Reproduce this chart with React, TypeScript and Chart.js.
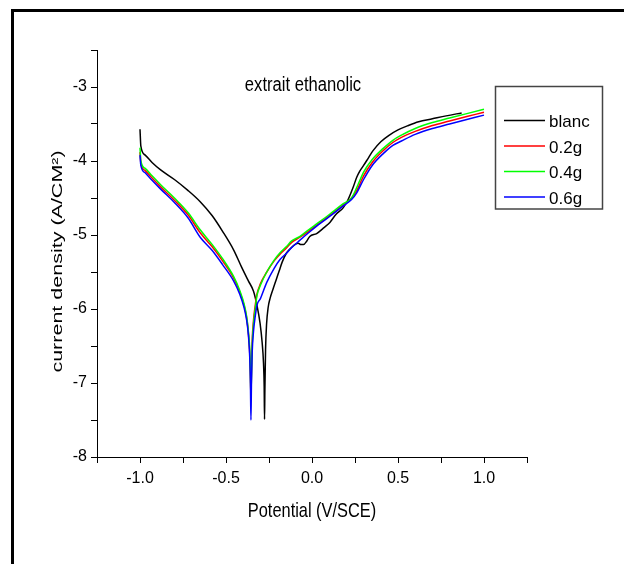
import React, { useEffect, useRef } from "react";
import { Chart, registerables } from "chart.js";

Chart.register(...registerables);

// ---------- data ----------
const seriesLabels = ["blanc", "0.2g", "0.4g", "0.6g"];
const seriesColors = ["#000000", "#ff0000", "#00ff00", "#0000ff"];

const blancPotential = [
  -1.0, -0.995, -0.97, -0.93, -0.88, -0.8, -0.72, -0.65, -0.58, -0.52,
  -0.456, -0.41, -0.37, -0.34, -0.32, -0.302, -0.29, -0.282, -0.278, -0.276,
  -0.274, -0.27, -0.264, -0.255, -0.243, -0.225, -0.209, -0.19, -0.174, -0.15,
  -0.128, -0.1, -0.08, -0.065, -0.05, -0.03, -0.013, 0.027, 0.07, 0.104,
  0.14, 0.182, 0.21, 0.24, 0.26, 0.277, 0.3, 0.33, 0.355, 0.4,
  0.45, 0.5, 0.56, 0.62, 0.7, 0.78, 0.87,
];
const blancLogI = [
  -3.57, -3.8, -3.92, -4.02, -4.12, -4.25, -4.4, -4.55, -4.74, -4.95,
  -5.2, -5.43, -5.62, -5.76, -5.95, -6.19, -6.45, -6.73, -7.05, -7.49,
  -7.1, -6.55, -6.2, -5.98, -5.85, -5.72, -5.61, -5.48, -5.37, -5.25,
  -5.19, -5.13, -5.11, -5.13, -5.13, -5.08, -5.02, -4.98, -4.9, -4.83,
  -4.72, -4.63, -4.52, -4.35, -4.22, -4.14, -4.06, -3.95, -3.86, -3.74,
  -3.65, -3.58, -3.52, -3.47, -3.43, -3.39, -3.35,
];

const inhPotential = [
  -1.0, -0.995, -0.97, -0.93, -0.88, -0.8, -0.72, -0.65, -0.58, -0.52,
  -0.456, -0.42, -0.395, -0.38, -0.37, -0.362, -0.358, -0.355, -0.352, -0.348,
  -0.34, -0.33, -0.32, -0.3, -0.263, -0.22, -0.186, -0.15, -0.118, -0.07,
  -0.02, 0.027, 0.08, 0.124, 0.18, 0.23, 0.26, 0.3, 0.35, 0.414,
  0.47, 0.52, 0.6, 0.7, 0.8, 0.9, 1.0,
];
const logI_02g = [
  -3.88, -4.03, -4.13, -4.23, -4.35, -4.53, -4.73, -4.97, -5.16, -5.35,
  -5.58, -5.77, -5.95, -6.12, -6.32, -6.6, -6.9, -7.2, -6.85, -6.45,
  -6.15, -5.95, -5.8, -5.66, -5.5, -5.35, -5.26, -5.18, -5.1, -5.03,
  -4.95, -4.87, -4.78, -4.7, -4.6, -4.5, -4.4, -4.2, -4.02, -3.86,
  -3.75, -3.68, -3.6, -3.52, -3.46, -3.4, -3.34,
];
const logI_04g = [
  -3.82, -4.0, -4.1, -4.2, -4.32, -4.5, -4.7, -4.93, -5.13, -5.32,
  -5.56, -5.75, -5.93, -6.1, -6.3, -6.55, -6.85, -7.2, -6.9, -6.5,
  -6.2, -6.0, -5.82, -5.68, -5.5, -5.34, -5.24, -5.16, -5.08, -5.02,
  -4.93, -4.85, -4.76, -4.68, -4.58, -4.5, -4.36, -4.15, -3.98, -3.83,
  -3.72, -3.65, -3.56, -3.48, -3.42, -3.36, -3.3,
];
const logI_06g = [
  -3.92, -4.06, -4.16, -4.26, -4.38, -4.56, -4.77, -5.03, -5.21, -5.4,
  -5.62, -5.8, -5.98, -6.15, -6.35, -6.65, -7.0, -7.5, -7.0, -6.6,
  -6.3, -6.1, -5.95, -5.86, -5.64, -5.45, -5.33, -5.25, -5.17, -5.07,
  -4.97, -4.88, -4.79, -4.71, -4.61, -4.52, -4.43, -4.25, -4.06, -3.9,
  -3.79, -3.73, -3.64, -3.56, -3.5, -3.44, -3.38,
];

const chartTitle = "extrait ethanolic";
const xTitle = "Potential (V/SCE)";
const yTitle = "current density (A/CM\u00B2)";
const xMin = -1.25, xMax = 1.25, xStep = 0.25;
const yMin = -8, yMax = -2.5, yStep = 0.5;

// ---------- layout ----------
const W = 624, H = 564;
const AREA = { left: 97, top: 50, right: 527, bottom: 457 };
const TICK_FONT = "'Liberation Sans Narrow', 'Liberation Sans', Arial, sans-serif";
const TEXT_FONT = "'Liberation Sans', Arial, sans-serif";

function zip(xs: number[], ys: number[]) {
  return xs.map((x, i) => ({ x, y: ys[i] }));
}

function drawScaled(
  ctx: CanvasRenderingContext2D, text: string, x: number, y: number,
  size: number, sx: number, sy: number, rot: number, baseline: CanvasTextBaseline
) {
  ctx.save();
  ctx.translate(x, y);
  ctx.rotate(rot);
  ctx.scale(sx, sy);
  ctx.font = `${size}px ${TEXT_FONT}`;
  ctx.fillStyle = "#000";
  ctx.textAlign = "center";
  ctx.textBaseline = baseline;
  ctx.fillText(text, 0, 0);
  ctx.restore();
}

const decorPlugin = {
  id: "decor",
  beforeDraw(chart: any) {
    const ctx = chart.ctx as CanvasRenderingContext2D;
    ctx.save();
    ctx.fillStyle = "#fff";
    ctx.fillRect(0, 0, W, H);
    ctx.strokeStyle = "#000";
    ctx.lineWidth = 3;
    ctx.beginPath();
    ctx.moveTo(12.5, H);
    ctx.lineTo(12.5, 10.5);
    ctx.lineTo(W, 10.5);
    ctx.stroke();
    ctx.restore();
  },
  afterDraw(chart: any) {
    const ctx = chart.ctx as CanvasRenderingContext2D;
    drawScaled(ctx, chartTitle, 303, 90.7, 20, 0.83, 1, 0, "alphabetic");
    drawScaled(ctx, xTitle, 312, 516.7, 21, 0.78, 1, 0, "alphabetic");
    drawScaled(ctx, yTitle, 57.5, 261.5, 21.5, 1, 0.7, -Math.PI / 2, "middle");

    // legend box
    ctx.save();
    ctx.strokeStyle = "#444";
    ctx.lineWidth = 1.5;
    ctx.strokeRect(495.5, 86.5, 107, 122.5);
    const rows = [120.5, 146, 171.5, 197];
    chart.data.datasets.forEach((ds: any, i: number) => {
      const y = rows[i];
      ctx.strokeStyle = ds.borderColor;
      ctx.lineWidth = 1.5;
      ctx.beginPath();
      ctx.moveTo(504, y);
      ctx.lineTo(545, y);
      ctx.stroke();
      ctx.fillStyle = "#000";
      ctx.font = `17px ${TEXT_FONT}`;
      ctx.textAlign = "left";
      ctx.textBaseline = "alphabetic";
      ctx.fillText(ds.label, 549, y + 6.5);
    });
    ctx.restore();
  },
};

export default function App() {
  const ref = useRef<HTMLCanvasElement | null>(null);

  useEffect(() => {
    if (!ref.current) return;
    const series = [
      zip(blancPotential, blancLogI),
      zip(inhPotential, logI_02g),
      zip(inhPotential, logI_04g),
      zip(inhPotential, logI_06g),
    ];
    const chart = new Chart(ref.current, {
      type: "line",
      data: {
        datasets: series.map((d, i) => ({
          label: seriesLabels[i],
          data: d,
          borderColor: seriesColors[i],
          backgroundColor: seriesColors[i],
          borderWidth: 1.5,
          pointRadius: 0,
          fill: false,
          cubicInterpolationMode: "monotone" as const,
          order: 4 - i,
        })),
      },
      options: {
        responsive: false,
        animation: false,
        devicePixelRatio: 1,
        parsing: false as any,
        normalized: true,
        layout: { padding: { left: 0, top: AREA.top, right: W - AREA.right, bottom: 0 } },
        plugins: {
          legend: { display: false },
          tooltip: { enabled: false },
          title: { display: false },
        },
        scales: {
          x: {
            type: "linear",
            min: xMin,
            max: xMax,
            afterFit: (s: any) => { s.height = H - AREA.bottom; },
            ticks: {
              stepSize: xStep,
              autoSkip: false,
              maxRotation: 0,
              color: "#000",
              padding: 6,
              font: { family: TICK_FONT, size: 16 },
              callback: (v: any) => {
                const n = Number(v);
                return Math.abs(n * 2 - Math.round(n * 2)) < 1e-9 ? n.toFixed(1) : "";
              },
            },
            grid: { drawOnChartArea: false, drawTicks: true, tickLength: 6, color: "#000", lineWidth: 1 },
            border: { display: true, color: "#000", width: 1 },
          },
          y: {
            type: "linear",
            min: yMin,
            max: yMax,
            afterFit: (s: any) => { s.width = AREA.left; },
            ticks: {
              stepSize: yStep,
              autoSkip: false,
              color: "#000",
              padding: 4,
              font: { family: TICK_FONT, size: 16 },
              callback: (v: any) => {
                const n = Number(v);
                return Math.abs(n - Math.round(n)) < 1e-9 ? String(Math.round(n)) : "";
              },
            },
            grid: { drawOnChartArea: false, drawTicks: true, tickLength: 6, color: "#000", lineWidth: 1 },
            border: { display: true, color: "#000", width: 1 },
          },
        },
      },
      plugins: [decorPlugin],
    });
    return () => chart.destroy();
  }, []);

  return (
    <div style={{ position: "absolute", left: 0, top: 0, width: W, height: H, background: "#fff" }}>
      <canvas ref={ref} width={W} height={H} style={{ width: W, height: H, display: "block" }} />
    </div>
  );
}
